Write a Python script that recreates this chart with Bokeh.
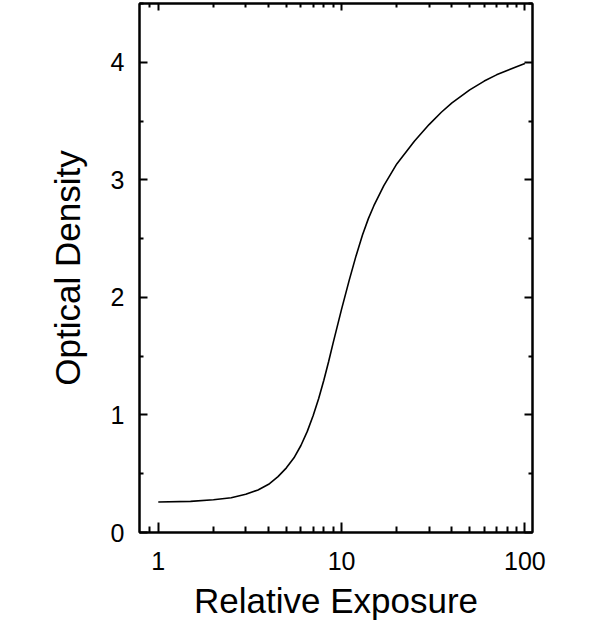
from bokeh.plotting import figure
from bokeh.models import (LinearAxis, LogAxis, FixedTicker, NumeralTickFormatter,
                          CustomJSTickFormatter, Range1d)
from bokeh.embed import file_html
from bokeh.resources import INLINE

# Data
exposure = [1, 1.5, 2, 2.5, 3, 3.5, 4, 4.5, 5, 5.5, 6, 6.5, 7, 7.5, 8, 8.5, 9, 10,
            11, 12, 13, 14, 15, 17, 20, 25, 30, 35, 40, 50, 60, 70, 80, 90, 100]
density = [0.26, 0.265, 0.278, 0.295, 0.325, 0.362, 0.41, 0.475, 0.55, 0.635, 0.74, 0.86,
           0.995, 1.14, 1.295, 1.455, 1.615, 1.90, 2.145, 2.355, 2.53, 2.67, 2.78, 2.95,
           3.135, 3.33, 3.47, 3.575, 3.655, 3.765, 3.84, 3.893, 3.93, 3.962, 3.99]

x_major_ticks = [1, 10, 100]
x_minor_ticks = [0.9, 2, 3, 4, 5, 6, 7, 8, 9, 20, 30, 40, 50, 60, 70, 80, 90]
y_major_ticks = [0, 1, 2, 3, 4]
y_minor_ticks = [0.5, 1.5, 2.5, 3.5, 4.5]

FONT = "Liberation Sans"

p = figure(width=600, height=622, x_axis_type="log",
           x_range=Range1d(0.79, 110), y_range=Range1d(0, 4.5),
           output_backend="svg", toolbar_location=None,
           min_border_left=139, min_border_right=68, min_border_top=3,
           min_border_bottom=90,
           x_axis_label="Relative Exposure", y_axis_label="Optical Density")

p.line(exposure, density, line_color="black", line_width=1.6)

p.grid.visible = False
p.outline_line_color = "black"
p.outline_line_width = 2
p.background_fill_color = "white"
p.border_fill_color = "white"

xt = FixedTicker(ticks=x_major_ticks, minor_ticks=x_minor_ticks)
yt = FixedTicker(ticks=y_major_ticks, minor_ticks=y_minor_ticks)

# bottom axis
xa = p.xaxis[0]
xa.ticker = xt
xa.formatter = NumeralTickFormatter(format="0")
xa.axis_line_color = "black"
xa.axis_line_width = 2
xa.major_tick_in = 10
xa.major_tick_out = 0
xa.minor_tick_in = 6
xa.minor_tick_out = 0
xa.major_tick_line_width = 2
xa.minor_tick_line_width = 2
xa.major_label_text_font = FONT
xa.major_label_text_font_size = "25px"
xa.major_label_text_color = "black"
xa.major_label_standoff = 19
xa.axis_label_text_font = FONT
xa.axis_label_text_font_size = "35px"
xa.axis_label_text_font_style = "normal"
xa.axis_label_text_color = "black"
xa.axis_label_standoff = 8

# left axis
ya = p.yaxis[0]
ya.ticker = yt
ya.axis_line_color = "black"
ya.axis_line_width = 2
ya.major_tick_in = 8
ya.major_tick_out = 0
ya.minor_tick_in = 4
ya.minor_tick_out = 0
ya.major_tick_line_width = 2
ya.minor_tick_line_width = 2
ya.major_label_text_font = FONT
ya.major_label_text_font_size = "25px"
ya.major_label_text_color = "black"
ya.major_label_standoff = 15
ya.axis_label_text_font = FONT
ya.axis_label_text_font_size = "35px"
ya.axis_label_text_font_style = "normal"
ya.axis_label_text_color = "black"
ya.axis_label_standoff = 21

blank = CustomJSTickFormatter(code="return ''")

top = LogAxis(ticker=xt, formatter=blank, axis_line_width=2,
              major_tick_in=7, major_tick_out=0, minor_tick_in=4, minor_tick_out=0,
              major_tick_line_width=2, minor_tick_line_width=2,
              major_label_text_font_size="1px", major_label_standoff=0)
p.add_layout(top, "above")

right = LinearAxis(ticker=yt, formatter=blank, axis_line_width=2,
                   major_tick_in=8, major_tick_out=0, minor_tick_in=4, minor_tick_out=0,
                   major_tick_line_width=2, minor_tick_line_width=2,
                   major_label_text_font_size="1px", major_label_standoff=0)
p.add_layout(right, "right")

open("out.html", "w").write(file_html(p, INLINE))
